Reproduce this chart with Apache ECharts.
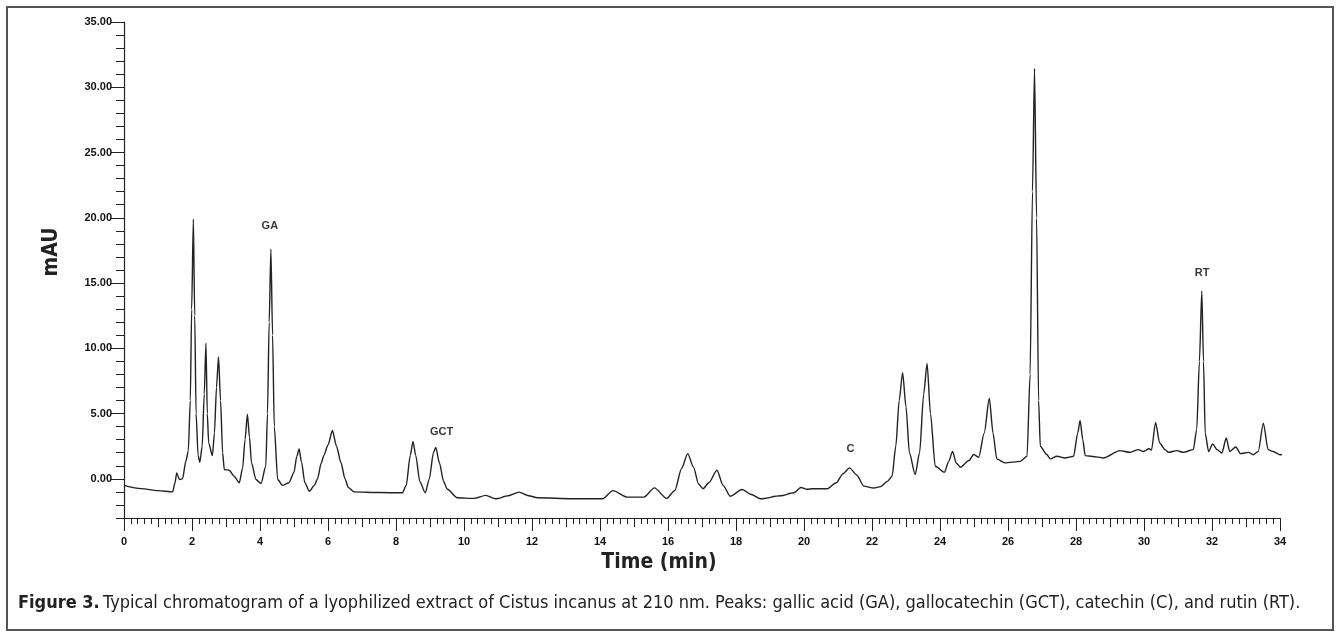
<!DOCTYPE html>
<html>
<head>
<meta charset="utf-8">
<script src="https://cdn.jsdelivr.net/npm/echarts@6/dist/echarts.min.js"></script>
<style>
  html, body { margin: 0; padding: 0; background: #fff; }
  #chart { width: 1340px; height: 632px; }
</style>
</head>
<body>
<div id="chart"></div>
<script>
// retention time (min) and detector signal (mAU)
const times = [
  0.00, 0.50, 1.00, 1.43, 1.50, 1.55, 1.63, 1.72, 1.82, 1.89, 1.95, 1.99, 2.04, 2.08, 2.12, 2.18,
  2.23, 2.30, 2.36, 2.41, 2.45, 2.49, 2.60, 2.66, 2.72, 2.78, 2.84, 2.90, 2.95, 3.09, 3.24, 3.39,
  3.49, 3.56, 3.63, 3.69, 3.75, 3.88, 4.03, 4.17, 4.22, 4.27, 4.32, 4.37, 4.42, 4.52, 4.66, 4.85,
  5.00, 5.08, 5.15, 5.22, 5.32, 5.45, 5.60, 5.69, 5.80, 5.88, 6.00, 6.13, 6.25, 6.38, 6.50, 6.60,
  6.77, 7.50, 8.19, 8.30, 8.42, 8.50, 8.58, 8.70, 8.86, 8.98, 9.10, 9.17, 9.28, 9.40, 9.51, 9.80,
  10.30, 10.64, 10.93, 11.30, 11.62, 11.90, 12.16, 13.20, 14.07, 14.38, 14.80, 15.29, 15.60, 15.96,
  16.20, 16.40, 16.58, 16.75, 16.90, 17.03, 17.20, 17.44, 17.62, 17.83, 18.18, 18.45, 18.72, 19.30,
  19.70, 19.91, 20.09, 20.26, 20.68, 20.95, 21.15, 21.34, 21.55, 21.76, 22.05, 22.25, 22.45, 22.59,
  22.70, 22.80, 22.90, 23.00, 23.10, 23.27, 23.40, 23.52, 23.62, 23.72, 23.86, 24.13, 24.25, 24.37,
  24.48, 24.60, 24.85, 24.99, 25.14, 25.30, 25.45, 25.56, 25.67, 25.91, 26.36, 26.56, 26.65, 26.72,
  26.78, 26.84, 26.90, 26.95, 27.14, 27.24, 27.44, 27.68, 27.93, 28.05, 28.12, 28.20, 28.27, 28.61,
  28.80, 29.29, 29.59, 29.84, 29.98, 30.15, 30.22, 30.34, 30.46, 30.62, 30.72, 30.96, 31.16, 31.45,
  31.55, 31.63, 31.70, 31.75, 31.80, 31.90, 32.02, 32.15, 32.29, 32.42, 32.52, 32.70, 32.84, 33.07,
  33.22, 33.36, 33.51, 33.65, 33.80, 34.00, 34.34, 34.54
];
const signal = [
  -0.50, -0.75, -0.90, -1.00, -0.30, 0.46, -0.05, 0.00, 1.35, 2.10, 6.0, 13.0, 19.9, 12.5, 5.0, 1.8,
  1.27, 2.5, 6.5, 10.4, 5.0, 2.75, 1.78, 3.5, 7.0, 9.36, 6.0, 2.0, 0.71, 0.66, 0.20, -0.30,
  0.84, 3.0, 4.96, 3.2, 1.22, -0.05, -0.36, 0.96, 5.0, 12.0, 17.6, 11.0, 4.0, -0.05, -0.50, -0.30,
  0.5, 1.7, 2.29, 1.3, -0.3, -0.95, -0.5, 0.0, 1.2, 1.80, 2.6, 3.70, 2.5, 1.25, 0.0, -0.67,
  -1.00, -1.05, -1.07, -0.5, 1.8, 2.87, 1.8, -0.2, -1.07, 0.0, 2.0, 2.41, 1.2, -0.2, -0.80, -1.45,
  -1.50, -1.27, -1.53, -1.3, -1.02, -1.3, -1.45, -1.52, -1.53, -0.90, -1.40, -1.40, -0.69, -1.50,
  -0.9, 0.8, 1.93, 0.9, -0.4, -0.76, -0.3, 0.66, -0.5, -1.33, -0.82, -1.2, -1.53, -1.30,
  -1.07, -0.66, -0.80, -0.76, -0.76, -0.3, 0.4, 0.84, 0.3, -0.56, -0.70, -0.60, -0.20, 0.20,
  2.5, 6.0, 8.14, 5.5, 2.0, 0.33, 2.0, 6.5, 8.85, 5.0, 0.96, 0.50, 1.3, 2.10,
  1.2, 0.89, 1.4, 1.86, 1.65, 3.5, 6.18, 3.5, 1.53, 1.22, 1.34, 1.73, 8.0, 22.0,
  31.45, 20.0, 6.0, 2.5, 1.86, 1.53, 1.73, 1.60, 1.73, 3.5, 4.47, 3.0, 1.78, 1.68,
  1.60, 2.16, 2.03, 2.24, 2.10, 2.31, 2.2, 4.32, 2.75, 2.24, 2.03, 2.16, 2.03, 2.24,
  3.76, 9.0, 14.4, 9.0, 3.50, 2.10, 2.67, 2.24, 1.98, 3.13, 2.10, 2.44, 1.93, 2.03,
  1.85, 2.10, 4.27, 2.24, 2.10, 1.85, 1.98, 1.85
];

// peak annotations
const peakNames = ['GA', 'GCT', 'C', 'RT'];
const peakTimes = [4.29, 9.34, 21.37, 31.71];
const peakLabelY = [19.4, 3.6, 2.3, 15.8];

const yLabelTicks = [0, 5, 10, 15, 20, 25, 30, 35];
const xOddTicks = [1, 3, 5, 7, 9, 11, 13, 15, 17, 19, 21, 23, 25, 27, 29, 31, 33];

const trace = times.map((t, i) => [t, signal[i]]);
const peaks = peakNames.map((n, i) => ({ name: n, value: [peakTimes[i], peakLabelY[i]] }));

const chart = echarts.init(document.getElementById('chart'), null, { renderer: 'canvas' });

const tickFont = {
  color: '#111',
  fontFamily: 'Liberation Sans, Arial, sans-serif',
  fontWeight: 'bold',
  fontSize: 11
};

chart.setOption({
  backgroundColor: '#fff',
  animation: false,
  grid: { left: 124, right: 60, top: 22, bottom: 114 },
  xAxis: [
    {
      type: 'value', min: 0, max: 34, interval: 2,
      axisLine: { onZero: false, lineStyle: { color: '#222', width: 1.2 } },
      axisTick: { length: 13, lineStyle: { color: '#222' } },
      minorTick: { show: true, splitNumber: 10, length: 6, lineStyle: { color: '#222' } },
      splitLine: { show: false },
      axisLabel: Object.assign({ margin: 18 }, tickFont)
    },
    {
      type: 'value', min: 0, max: 34, position: 'bottom',
      axisLine: { show: false, onZero: false },
      axisTick: { show: true, length: 9, customValues: xOddTicks, lineStyle: { color: '#222' } },
      axisLabel: { show: false },
      splitLine: { show: false }
    }
  ],
  yAxis: [
    {
      type: 'value', min: -3, max: 35, interval: 1,
      axisLine: { show: true, onZero: false, lineStyle: { color: '#222', width: 1.2 } },
      axisTick: { length: 8, lineStyle: { color: '#222' } },
      splitLine: { show: false },
      axisLabel: Object.assign({
        margin: 12,
        customValues: yLabelTicks,
        formatter: v => v.toFixed(2)
      }, tickFont)
    },
    {
      type: 'value', min: -3, max: 35, position: 'left',
      axisLine: { show: false, onZero: false },
      axisTick: { show: true, length: 13, customValues: yLabelTicks, lineStyle: { color: '#222' } },
      axisLabel: { show: false },
      splitLine: { show: false }
    }
  ],
  series: [
    {
      type: 'line',
      data: trace,
      showSymbol: false,
      clip: false,
      smooth: 0.25,
      smoothMonotone: 'x',
      lineStyle: { color: '#222', width: 1.4 }
    },
    {
      type: 'scatter',
      data: peaks,
      symbolSize: 0,
      label: {
        show: true,
        position: 'inside',
        formatter: p => p.name,
        color: '#000',
        fontFamily: 'Liberation Sans, Arial, sans-serif',
        fontWeight: 'bold',
        fontSize: 11
      }
    }
  ],
  graphic: [
    {
      type: 'rect',
      shape: { x: 7, y: 7, width: 1326, height: 623 },
      style: { fill: 'none', stroke: '#555', lineWidth: 2 }
    },
    {
      type: 'text',
      x: 52, y: 252, rotation: Math.PI / 2,
      style: {
        text: 'mAU',
        fill: '#222',
        font: 'bold 21px "DejaVu Sans Condensed", "Liberation Sans", sans-serif',
        align: 'center', verticalAlign: 'middle'
      }
    },
    {
      type: 'text',
      x: 659, y: 563,
      style: {
        text: 'Time (min)',
        fill: '#222',
        font: 'bold 21px "DejaVu Sans Condensed", "Liberation Sans", sans-serif',
        align: 'center', verticalAlign: 'middle'
      }
    },
    {
      type: 'text',
      x: 18, y: 603,
      style: {
        text: '{b|Figure 3.} {r|Typical chromatogram of a lyophilized extract of Cistus incanus at 210 nm. Peaks: gallic acid (GA), gallocatechin (GCT), catechin (C), and rutin (RT).}',
        verticalAlign: 'middle',
        rich: {
          b: { font: 'bold 18px "DejaVu Sans Condensed", sans-serif', fill: '#222' },
          r: { font: '18px "DejaVu Sans Condensed", sans-serif', fill: '#222' }
        }
      }
    }
  ]
});
</script>
</body>
</html>
